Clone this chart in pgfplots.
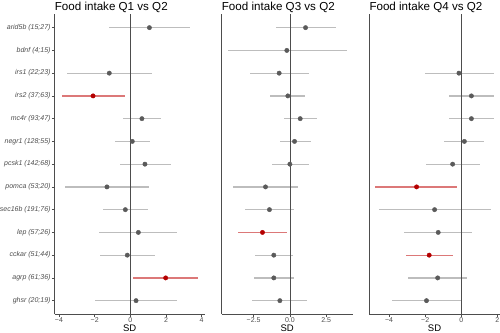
\documentclass[border=0pt]{standalone}
\usepackage{pgfplots}
\pgfplotsset{compat=1.18}
\usepackage{pgfplotstable}
\usepackage{fontspec}
\setmainfont{Liberation Sans}
\definecolor{cigrey}{HTML}{BDBDBD}
\definecolor{ptgrey}{HTML}{5A5A5A}
\definecolor{cired}{HTML}{DC7878}
\definecolor{ptred}{HTML}{B40000}
\definecolor{axgrey}{HTML}{4D4D4D}
\definecolor{lblgrey}{HTML}{4D4D4D}

% panel 1: Q1 vs Q2
\pgfplotstableread{
y est lo hi
1 1.07 -1.20 3.35
3 -1.18 -3.57 1.23
5 0.65 -0.39 1.74
6 0.11 -0.88 1.12
7 0.82 -0.60 2.26
8 -1.31 -3.66 1.07
9 -0.28 -1.51 0.97
10 0.45 -1.74 2.64
11 -0.17 -1.68 1.36
13 0.32 -1.96 2.60
}\pA
\pgfplotstableread{
y est lo hi
4 -2.09 -3.85 -0.30
12 1.98 0.17 3.79
}\pAred
% panel 2: Q3 vs Q2
\pgfplotstableread{
y est lo hi
1 1.08 -0.97 3.18
2 -0.21 -4.26 3.92
3 -0.74 -2.74 1.29
4 -0.14 -1.36 1.06
5 0.71 -0.39 1.84
6 0.32 -0.71 1.43
7 0.00 -1.24 1.29
8 -1.68 -3.92 0.55
9 -1.41 -3.06 0.30
11 -1.11 -2.42 0.21
12 -1.11 -2.49 0.28
13 -0.69 -2.58 1.18
}\pB
\pgfplotstableread{
y est lo hi
10 -1.89 -3.55 -0.18
}\pBred
% panel 3: Q4 vs Q2
\pgfplotstableread{
y est lo hi
3 -0.13 -2.00 1.80
4 0.56 -0.67 1.80
5 0.56 -0.69 1.80
6 0.17 -0.96 1.28
7 -0.48 -1.94 1.02
9 -1.48 -4.59 1.65
10 -1.28 -3.15 0.59
12 -1.31 -2.94 0.30
13 -1.93 -3.85 0.00
}\pC
\pgfplotstableread{
y est lo hi
8 -2.48 -4.76 -0.22
11 -1.78 -3.09 -0.46
}\pCred

\pgfplotsset{
  forest/.style={
    scale only axis,
    height=300.3bp,
    ymin=0.4, ymax=13.6,
    y dir=reverse,
    axis lines*=left,
    axis line style={draw=axgrey, line width=0.6bp, -},
    tick align=outside,
    major tick length=2.75bp,
    tick style={draw=axgrey, line width=0.5bp},
    x tick label style={font=\fontsize{7bp}{8bp}\selectfont, text=lblgrey, inner sep=0pt, anchor=north, yshift=-0.5bp},
    y tick label style={font=\fontsize{7bp}{8bp}\selectfont\itshape, text=lblgrey, inner sep=0pt, anchor=east, xshift=-1.2bp},
    every axis title shift=0pt,
    title style={font=\fontsize{11.6bp}{13bp}\selectfont, at={(axis description cs:0,1)}, anchor=base west, inner sep=0pt, yshift=3.6bp},
    xlabel={SD},
    xlabel style={font=\fontsize{9.5bp}{11bp}\selectfont, at={(axis description cs:0.5,0)}, anchor=base, inner sep=0pt, yshift=-16.9bp},
    clip=false,
  },
  cis/.style={draw=none, mark=none, forget plot,
    error bars/.cd, x dir=both, x explicit, error mark=none,
    error bar style={draw=#1, line width=1.3bp}},
  pts/.style={only marks, mark=*, mark size=2.2bp, mark options={draw=#1, fill=#1}},
}

\newcommand{\panel}[2]{%
  \addplot[cis=cigrey] table[x=est, y=y, x error plus expr=\thisrow{hi}-\thisrow{est}, x error minus expr=\thisrow{est}-\thisrow{lo}] {#1};
  \addplot[cis=cired] table[x=est, y=y, x error plus expr=\thisrow{hi}-\thisrow{est}, x error minus expr=\thisrow{est}-\thisrow{lo}] {#2};
  \addplot[draw=axgrey, line width=0.6bp, mark=none] coordinates {(0,0.4) (0,13.6)};
  \addplot[pts=ptgrey] table[x=est, y=y] {#1};
  \addplot[pts=ptred] table[x=est, y=y] {#2};
}

\begin{document}
\begin{tikzpicture}[x=1bp,y=1bp]
\begin{axis}[forest,
  at={(54.7bp,17.7bp)}, anchor=south west,
  width=150bp,
  xmin=-4.24, xmax=4.17,
  xtick={-4,-2,0,2,4},
  xticklabels={−4,−2,0,2,4},
  ytick={1,2,3,4,5,6,7,8,9,10,11,12,13},
  yticklabels={{arid5b (15;27)},{bdnf (4;15)},{irs1 (22;23)},{irs2 (37;63)},{mc4r (93;47)},{negr1 (128;55)},{pcsk1 (142;68)},{pomca (53;20)},{sec16b (191;76)},{lep (57;26)},{cckar (51;44)},{agrp (61;36)},{ghsr (20;19)}},
  title={Food intake Q1 vs Q2},
]
\panel{\pA}{\pAred}
\end{axis}
\begin{axis}[forest,
  at={(221.7bp,17.7bp)}, anchor=south west,
  width=131bp,
  xmin=-4.70, xmax=4.33,
  xtick={-2.5,0,2.5},
  xticklabels={−2.5,0.0,2.5},
  ytick=\empty,
  title={Food intake Q3 vs Q2},
]
\panel{\pB}{\pBred}
\end{axis}
\begin{axis}[forest,
  at={(369.3bp,17.7bp)}, anchor=south west,
  width=130.4bp,
  xmin=-5.10, xmax=2.13,
  xtick={-4,-2,0,2},
  xticklabels={−4,−2,0,2},
  ytick=\empty,
  title={Food intake Q4 vs Q2},
]
\panel{\pC}{\pCred}
\end{axis}
\pgfresetboundingbox
\path[use as bounding box] (0,0) rectangle (500,332);
\end{tikzpicture}
\end{document}
